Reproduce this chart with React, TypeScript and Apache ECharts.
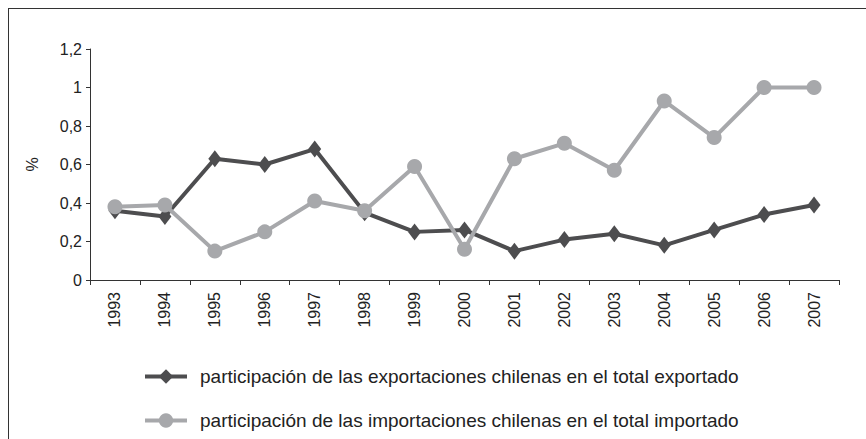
import React, { useEffect, useRef } from "react";
import * as echarts from "echarts";

const years = ["1993", "1994", "1995", "1996", "1997", "1998", "1999", "2000", "2001", "2002", "2003", "2004", "2005", "2006", "2007"];
const exportShare = [0.36, 0.33, 0.63, 0.6, 0.68, 0.35, 0.25, 0.26, 0.15, 0.21, 0.24, 0.18, 0.26, 0.34, 0.39];
const importShare = [0.38, 0.39, 0.15, 0.25, 0.41, 0.36, 0.59, 0.16, 0.63, 0.71, 0.57, 0.93, 0.74, 1.0, 1.0];
const exportName = "participación de las exportaciones chilenas en el total exportado";
const importName = "participación de las importaciones chilenas en el total importado";
const yAxisName = "%";

const FONT = "'Liberation Sans', Arial, Helvetica, sans-serif";
const DARK = "#4d4d4f";
const LIGHT = "#a7a8ab";

export default function App() {
  const ref = useRef<HTMLDivElement>(null);
  useEffect(() => {
    if (!ref.current) return;
    const chart = echarts.init(ref.current, null, { renderer: "svg" });
    const legendBase = {
      orient: "horizontal",
      left: 138,
      itemWidth: 42,
      itemHeight: 18,
      lineStyle: { width: 4 },
      textStyle: { fontSize: 19, color: "#222", fontFamily: FONT, padding: [0, 0, 0, 8] },
    };
    chart.setOption({
      animation: false,
      backgroundColor: "#ffffff",
      textStyle: { fontFamily: FONT },
      grid: { left: 90, right: 27, top: 49, bottom: 159 },
      graphic: [
        { type: "line", shape: { x1: 8, y1: 8.5, x2: 866, y2: 8.5 }, style: { stroke: "#333", lineWidth: 1 } },
        { type: "line", shape: { x1: 8.5, y1: 8, x2: 8.5, y2: 439 }, style: { stroke: "#333", lineWidth: 1 } },
      ],
      xAxis: {
        type: "category",
        data: years,
        boundaryGap: true,
        axisLine: { lineStyle: { color: "#333", width: 1 } },
        axisTick: { show: true, length: 5, lineStyle: { color: "#333" } },
        axisLabel: { rotate: 90, margin: 12, fontSize: 16, color: "#222", fontFamily: FONT },
        splitLine: { show: false },
      },
      yAxis: {
        type: "value",
        min: 0,
        max: 1.2,
        interval: 0.2,
        name: yAxisName,
        nameLocation: "middle",
        nameGap: 50,
        nameRotate: 90,
        nameTextStyle: { fontSize: 16, color: "#222", fontFamily: FONT },
        axisLine: { show: true, lineStyle: { color: "#333", width: 1 } },
        axisTick: { show: true, length: 4, lineStyle: { color: "#333" } },
        axisLabel: {
          margin: 8,
          fontSize: 16,
          color: "#222",
          fontFamily: FONT,
          formatter: (v: number) => String(Math.round(v * 10) / 10).replace(".", ","),
        },
        splitLine: { show: false },
      },
      legend: [
        { ...legendBase, top: 362, data: [exportName] },
        { ...legendBase, top: 406, data: [importName] },
      ],
      series: [
        {
          name: exportName,
          type: "line",
          data: exportShare,
          symbol: "diamond",
          symbolSize: [13, 17],
          lineStyle: { color: DARK, width: 4 },
          itemStyle: { color: DARK },
          z: 2,
        },
        {
          name: importName,
          type: "line",
          data: importShare,
          symbol: "circle",
          symbolSize: 15,
          lineStyle: { color: LIGHT, width: 4 },
          itemStyle: { color: LIGHT },
          z: 3,
        },
      ],
    });
    return () => chart.dispose();
  }, []);
  return <div ref={ref} style={{ position: "fixed", left: 0, top: 0, width: 866, height: 439 }} />;
}
